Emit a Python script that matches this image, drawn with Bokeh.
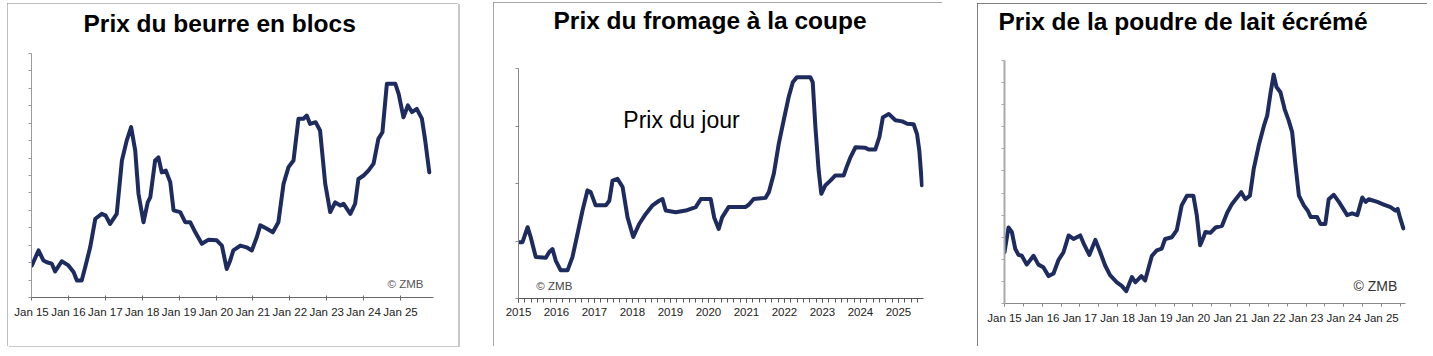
from bokeh.plotting import figure
from bokeh.models import Range1d, FixedTicker, Label, CustomJSTickFormatter, Title
from bokeh.embed import file_html
from bokeh.resources import INLINE

# ---------------- data (decimal years, EUR/kg) ----------------
years = [2015, 2016, 2017, 2018, 2019, 2020, 2021, 2022, 2023, 2024, 2025]
jan_labels = ["Jan 15", "Jan 16", "Jan 17", "Jan 18", "Jan 19", "Jan 20",
              "Jan 21", "Jan 22", "Jan 23", "Jan 24", "Jan 25"]
year_labels = ["2015", "2016", "2017", "2018", "2019", "2020",
               "2021", "2022", "2023", "2024", "2025"]

butter_t = [2015.01, 2015.19, 2015.325, 2015.415, 2015.55, 2015.64, 2015.82, 2016.00,
            2016.14, 2016.23, 2016.36, 2016.455, 2016.59, 2016.73, 2016.905, 2017.01,
            2017.13, 2017.31, 2017.45, 2017.58, 2017.70, 2017.81, 2017.90, 2018.035,
            2018.15, 2018.22, 2018.35, 2018.44, 2018.53, 2018.64, 2018.76, 2018.85,
            2019.03, 2019.165, 2019.30, 2019.44, 2019.615, 2019.80, 2020.02, 2020.16,
            2020.29, 2020.38, 2020.47, 2020.66, 2020.83, 2020.97, 2021.105, 2021.20,
            2021.38, 2021.54, 2021.69, 2021.83, 2021.965, 2022.10, 2022.235, 2022.37,
            2022.46, 2022.55, 2022.70, 2022.82, 2022.96, 2023.095, 2023.23, 2023.37,
            2023.455, 2023.64, 2023.77, 2023.86, 2024.00, 2024.13, 2024.27, 2024.40,
            2024.51, 2024.63, 2024.86, 2024.95, 2025.08, 2025.20, 2025.31, 2025.44,
            2025.58, 2025.67, 2025.78]
butter_v = [2.92, 3.35, 3.06, 3.01, 2.97, 2.75, 3.04, 2.92,
            2.73, 2.49, 2.49, 2.87, 3.44, 4.26, 4.40, 4.35,
            4.11, 4.40, 5.93, 6.50, 6.89, 6.22, 4.97, 4.16,
            4.73, 4.88, 5.93, 6.02, 5.59, 5.64, 5.31, 4.50,
            4.45, 4.16, 4.16, 3.87, 3.54, 3.66, 3.64, 3.49,
            2.82, 3.05, 3.35, 3.49, 3.44, 3.35, 3.73, 4.07,
            3.97, 3.87, 4.16, 5.26, 5.74, 5.93, 7.13, 7.13,
            7.22, 6.98, 7.03, 6.79, 5.26, 4.45, 4.73, 4.64,
            4.69, 4.40, 4.69, 5.40, 5.50, 5.64, 5.84, 6.55,
            6.74, 8.13, 8.13, 7.84, 7.17, 7.51, 7.32, 7.41,
            7.13, 6.50, 5.59]

cheese_t = [2015.02, 2015.105, 2015.24, 2015.32, 2015.455, 2015.72, 2015.81, 2015.895,
            2015.98, 2016.11, 2016.29, 2016.42, 2016.555, 2016.685, 2016.815, 2016.90,
            2017.03, 2017.30, 2017.39, 2017.475, 2017.605, 2017.74, 2017.87, 2018.02,
            2018.18, 2018.35, 2018.53, 2018.70, 2018.79, 2018.875, 2019.14, 2019.40,
            2019.665, 2019.80, 2020.06, 2020.15, 2020.27, 2020.36, 2020.53, 2020.97,
            2021.06, 2021.19, 2021.50, 2021.59, 2021.72, 2021.85, 2021.98, 2022.11,
            2022.22, 2022.33, 2022.68, 2022.745, 2022.815, 2022.90, 2022.97, 2023.08,
            2023.21, 2023.34, 2023.56, 2023.65, 2023.74, 2023.87, 2024.13, 2024.22,
            2024.39, 2024.50, 2024.59, 2024.745, 2024.92, 2025.10, 2025.23, 2025.40,
            2025.49, 2025.55, 2025.62]
cheese_v = [2.48, 2.48, 2.74, 2.57, 2.22, 2.21, 2.31, 2.36,
            2.16, 1.99, 1.99, 2.22, 2.63, 3.03, 3.38, 3.35,
            3.12, 3.12, 3.20, 3.55, 3.58, 3.44, 2.91, 2.57,
            2.80, 2.97, 3.12, 3.20, 3.23, 3.03, 3.00, 3.03,
            3.09, 3.23, 3.23, 2.91, 2.71, 2.91, 3.09, 3.09,
            3.13, 3.23, 3.25, 3.35, 3.67, 4.19, 4.60, 5.00,
            5.26, 5.35, 5.35, 5.26, 4.48, 3.73, 3.32, 3.47,
            3.55, 3.64, 3.64, 3.81, 3.96, 4.13, 4.12, 4.09,
            4.09, 4.31, 4.65, 4.71, 4.60, 4.58, 4.54, 4.53,
            4.36, 4.07, 3.47]

smp_t = [2015.00, 2015.106, 2015.194, 2015.284, 2015.371, 2015.459, 2015.59, 2015.77,
         2015.90, 2016.03, 2016.17, 2016.30, 2016.43, 2016.565, 2016.70, 2016.83,
         2017.01, 2017.12, 2017.25, 2017.41, 2017.54, 2017.67, 2017.80, 2017.98,
         2018.11, 2018.23, 2018.38, 2018.47, 2018.63, 2018.73, 2018.91, 2019.04,
         2019.17, 2019.26, 2019.44, 2019.57, 2019.70, 2019.84, 2020.01, 2020.10,
         2020.19, 2020.28, 2020.33, 2020.46, 2020.60, 2020.77, 2020.91, 2021.04,
         2021.17, 2021.28, 2021.39, 2021.51, 2021.61, 2021.745, 2021.88, 2021.97,
         2022.06, 2022.14, 2022.215, 2022.32, 2022.43, 2022.54, 2022.63, 2022.72,
         2022.81, 2022.94, 2023.045, 2023.12, 2023.29, 2023.38, 2023.51, 2023.60,
         2023.735, 2023.87, 2024.09, 2024.22, 2024.36, 2024.49, 2024.58, 2024.66,
         2024.89, 2025.06, 2025.24, 2025.37, 2025.43, 2025.50, 2025.58]
smp_v = [1.83, 2.11, 2.06, 1.87, 1.80, 1.79, 1.69, 1.79,
         1.69, 1.66, 1.56, 1.59, 1.74, 1.83, 2.02, 1.98,
         2.02, 1.91, 1.80, 1.97, 1.83, 1.68, 1.57, 1.49,
         1.45, 1.39, 1.55, 1.49, 1.56, 1.51, 1.79, 1.85,
         1.87, 1.98, 2.00, 2.08, 2.36, 2.47, 2.47, 2.25,
         1.91, 2.00, 2.06, 2.05, 2.11, 2.13, 2.28, 2.38,
         2.45, 2.51, 2.43, 2.47, 2.77, 3.04, 3.26, 3.38,
         3.64, 3.84, 3.70, 3.64, 3.45, 3.32, 3.19, 2.81,
         2.47, 2.36, 2.30, 2.23, 2.23, 2.15, 2.15, 2.43,
         2.48, 2.40, 2.25, 2.27, 2.25, 2.45, 2.40, 2.43,
         2.40, 2.37, 2.34, 2.30, 2.32, 2.21, 2.10]

butter_yticks = [2.0, 2.5, 3.0, 3.5, 4.0, 4.5, 5.0, 5.5, 6.0, 6.5, 7.0, 7.5, 8.0, 8.5, 9.0]
cheese_yticks = [1.5, 2.5, 3.5, 4.5, 5.5]
smp_yticks = [1.25, 1.5, 1.75, 2.0, 2.25, 2.5, 2.75, 3.0, 3.25, 3.5, 3.75, 4.0]
cheese_minor = [2015 + k / 6 for k in range(65)]
smp_minor = [2015 + k / 2 for k in range(22)]

LINE = "#1e2b5e"
FONT = "Liberation Sans"
blank = CustomJSTickFormatter(code="return ''")


def panel(title, title_off, gap, t, v, xr, yr, yticks, xlabels, frame,
          borders, box_css, yaxis_color, yaxis_width, xaxis_color, minor=None,
          xtick=(2, 3)):
    fw, fh = frame
    bl, br, bt, bb = borders
    p = figure(frame_width=fw, frame_height=fh, x_range=Range1d(*xr), y_range=Range1d(*yr),
               output_backend="svg", toolbar_location=None, title=title,
               min_border_left=bl, min_border_right=br,
               min_border_top=bt, min_border_bottom=bb,
               background_fill_color="white", border_fill_color="white",
               styles=box_css)
    p.title.text_font = FONT
    p.title.text_font_size = "24.5px"
    p.title.text_font_style = "bold"
    p.title.text_color = "#000000"
    p.title.align = "left"
    p.title.offset = title_off
    p.title.standoff = 0
    # blank spacer between the title and the plot area
    p.add_layout(Title(text=" ", text_font_size="1px", standoff=gap), "above")
    p.outline_line_color = None
    p.grid.visible = False
    p.line(t, v, line_color=LINE, line_width=4, line_join="round", line_cap="round")

    ya = p.yaxis[0]
    ya.ticker = FixedTicker(ticks=yticks)
    ya.formatter = blank
    ya.axis_line_color = yaxis_color
    ya.axis_line_width = yaxis_width
    ya.major_tick_line_color = yaxis_color
    ya.major_tick_out = 3
    ya.major_tick_in = 0
    ya.minor_tick_line_color = None

    xa = p.xaxis[0]
    xa.ticker = FixedTicker(ticks=years, minor_ticks=minor or [])
    xa.major_label_overrides = {yr_: lab for yr_, lab in zip(years, xlabels)}
    xa.major_label_text_font = FONT
    xa.major_label_text_font_size = "11.5px"
    xa.major_label_text_color = "#222222"
    xa.major_label_standoff = 5
    xa.axis_line_color = xaxis_color
    xa.major_tick_line_color = xaxis_color
    xa.major_tick_in = xtick[0]
    xa.major_tick_out = xtick[1]
    xa.minor_tick_line_color = xaxis_color if minor else None
    xa.minor_tick_in = xtick[0]
    xa.minor_tick_out = xtick[1]
    return p


def place(left, top, extra):
    css = {"position": "absolute", "left": f"{left}px", "top": f"{top}px"}
    css.update(extra)
    return css


p1 = panel("Prix du beurre en blocs", 52, 14, butter_t, butter_v,
           (2015, 2025.894), (2.0, 9.0), butter_yticks, jan_labels,
           (402, 244), (24, 25, 50, 49),
           place(7, 3, {"outline": "1px solid #a8a8a8", "outline-offset": "-1px",
                        "box-shadow": "2px 1px 0 #c8c8c8"}),
           "#9a9a9a", 1, "#6a6a6a")
p1.add_layout(Label(x=2024.65, y=2.40, text="© ZMB", text_font=FONT,
                    text_font_size="11.5px", text_color="#555555",
                    text_baseline="middle", text_align="left"))

p2 = panel("Prix du fromage à la coupe", 35, 32, cheese_t, cheese_v,
           (2015, 2025.66), (1.5, 5.5), cheese_yticks, year_labels,
           (405, 230), (25, 19, 66, 48),
           place(493, 2, {"outline": "1px solid #8a8a8a", "outline-offset": "-1px"}),
           "#8a8a8a", 1, "#555555", minor=cheese_minor, xtick=(0, 4))
p2.add_layout(Label(x=2017.76, y=4.61, text="Prix du jour", text_font=FONT,
                    text_font_size="23px", text_color="#000000",
                    text_baseline="alphabetic", text_align="left"))
p2.add_layout(Label(x=2015.47, y=1.71, text="© ZMB", text_font=FONT,
                    text_font_size="11.5px", text_color="#444444",
                    text_baseline="middle", text_align="left"))

p3 = panel("Prix de la poudre de lait écrémé", -6, 23, smp_t, smp_v,
           (2015, 2025.637), (1.25, 4.0), smp_yticks, jan_labels,
           (401, 243), (27, 22, 57, 43),
           place(977, 3, {"outline": "2px solid #555555", "outline-offset": "-2px"}),
           "#a8a8a8", 2, "#8a8a8a", minor=smp_minor, xtick=(0, 3))
p3.add_layout(Label(x=2024.26, y=1.45, text="© ZMB", text_font=FONT,
                    text_font_size="14px", text_color="#333333",
                    text_baseline="middle", text_align="left"))

open("out.html", "w").write(file_html([p1, p2, p3], INLINE))
